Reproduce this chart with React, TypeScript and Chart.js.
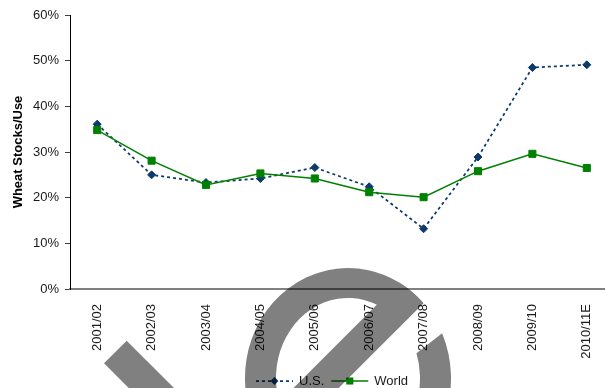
import { useEffect, useRef } from "react";
import { Chart, registerables } from "chart.js";
import type { Plugin, ChartDataset } from "chart.js";

Chart.register(...registerables);

// Marketing years on the category axis
const seasons = [
  "2001/02",
  "2002/03",
  "2003/04",
  "2004/05",
  "2005/06",
  "2006/07",
  "2007/08",
  "2008/09",
  "2009/10",
  "2010/11E",
];

// Ending stocks as a share of total use, in percent
const usStocksToUse = [36.1, 25.0, 23.3, 24.2, 26.6, 22.4, 13.2, 28.9, 48.5, 49.1];
const worldStocksToUse = [34.8, 28.1, 22.8, 25.3, 24.2, 21.2, 20.1, 25.8, 29.6, 26.5];

const seriesNames = ["U.S.", "World"];
const yAxisTitle = "Wheat Stocks/Use";
const yMin = 0;
const yMax = 60;
const yStep = 10;

const FONT = "Arial, 'Liberation Sans', sans-serif";
const US_COLOR = "#0d3a6b";
const WORLD_COLOR = "#008000";
const TEXT_COLOR = "#1a1a1a";

const CANVAS_W = 620;
const CANVAS_H = 388;

// Key drawn under the axis labels: a short stretch of each line with its marker
const KEY_CENTER_X = 332;
const KEY_Y = 381;
const KEY_SWATCH = 37;

function drawMarker(ctx: CanvasRenderingContext2D, style: string, x: number, y: number, r: number, color: string) {
  ctx.save();
  ctx.fillStyle = color;
  ctx.beginPath();
  if (style === "rectRot") {
    ctx.moveTo(x, y - r);
    ctx.lineTo(x + r, y);
    ctx.lineTo(x, y + r);
    ctx.lineTo(x - r, y);
    ctx.closePath();
  } else {
    const h = r * Math.SQRT1_2;
    ctx.rect(x - h, y - h, 2 * h, 2 * h);
  }
  ctx.fill();
  ctx.restore();
}

const seriesKey: Plugin<"line"> = {
  id: "seriesKey",
  afterDraw(chart) {
    const ctx = chart.ctx;
    ctx.save();
    ctx.font = `13px ${FONT}`;
    ctx.textBaseline = "middle";
    ctx.textAlign = "left";
    const gapText = 6;
    const gapItem = 7;
    const sets = chart.data.datasets as any[];
    const widths = sets.map((ds) => KEY_SWATCH + gapText + ctx.measureText(ds.label).width);
    const total = widths.reduce((a, b) => a + b, 0) + gapItem * (sets.length - 1);
    let x = KEY_CENTER_X - total / 2;
    sets.forEach((ds, i) => {
      ctx.save();
      ctx.strokeStyle = ds.borderColor;
      ctx.lineWidth = ds.borderWidth;
      ctx.setLineDash(ds.borderDash || []);
      ctx.beginPath();
      ctx.moveTo(x, KEY_Y);
      ctx.lineTo(x + KEY_SWATCH, KEY_Y);
      ctx.stroke();
      ctx.restore();
      drawMarker(ctx, ds.pointStyle, x + KEY_SWATCH / 2, KEY_Y, ds.pointRadius, ds.pointBackgroundColor);
      ctx.fillStyle = TEXT_COLOR;
      ctx.fillText(ds.label, x + KEY_SWATCH + gapText, KEY_Y);
      x += widths[i] + gapItem;
    });
    ctx.restore();
  },
};

// Grey publisher stamp laid over the lower part of the chart
const stamp: Plugin<"line"> = {
  id: "stamp",
  afterDraw(chart) {
    const layer = document.createElement("canvas");
    layer.width = chart.width;
    layer.height = chart.height;
    const g = layer.getContext("2d");
    if (!g) return;
    const rad = (d: number) => (d * Math.PI) / 180;
    g.fillStyle = "#808080";
    const cx = 348;
    const cy = 378;
    // open ring
    g.beginPath();
    g.ellipse(cx, cy, 103, 110, 0, rad(-24), rad(317), false);
    g.ellipse(cx, cy, 72, 80, 0, rad(318), rad(-18), true);
    g.closePath();
    g.fill();
    // diagonal cross stroke inside the ring
    g.save();
    g.beginPath();
    g.ellipse(cx, cy, 103, 110, 0, 0, Math.PI * 2);
    g.clip();
    g.beginPath();
    g.moveTo(481.5, 200);
    g.lineTo(526.7, 200);
    g.lineTo(226.7, 500);
    g.lineTo(181.5, 500);
    g.closePath();
    g.fill();
    g.restore();
    // slanted stroke on the left
    g.beginPath();
    g.moveTo(126.7, 340.7);
    g.lineTo(104, 363.3);
    g.lineTo(164, 423.3);
    g.lineTo(186.7, 400.7);
    g.closePath();
    g.fill();

    const ctx = chart.ctx;
    ctx.save();
    ctx.globalCompositeOperation = "multiply";
    ctx.drawImage(layer, 0, 0);
    ctx.restore();
  },
};

export default function App() {
  const canvasRef = useRef<HTMLCanvasElement>(null);

  useEffect(() => {
    const canvas = canvasRef.current;
    if (!canvas) return;

    const datasets: ChartDataset<"line">[] = [
      {
        label: seriesNames[0],
        data: usStocksToUse,
        borderColor: US_COLOR,
        backgroundColor: US_COLOR,
        borderWidth: 1.75,
        borderDash: [3, 3],
        pointStyle: "rectRot",
        pointRadius: 4,
        pointBackgroundColor: US_COLOR,
        pointBorderColor: US_COLOR,
        pointBorderWidth: 1,
        tension: 0,
        order: 2,
      },
      {
        label: seriesNames[1],
        data: worldStocksToUse,
        borderColor: WORLD_COLOR,
        backgroundColor: WORLD_COLOR,
        borderWidth: 1.5,
        pointStyle: "rect",
        pointRadius: 5,
        pointBackgroundColor: WORLD_COLOR,
        pointBorderColor: WORLD_COLOR,
        pointBorderWidth: 1,
        tension: 0,
        order: 1,
      },
    ];

    const chart = new Chart(canvas, {
      type: "line",
      data: { labels: seasons, datasets },
      options: {
        animation: false,
        responsive: false,
        devicePixelRatio: 1,
        layout: { padding: { top: 15, right: 4, left: 0, bottom: 0 } },
        plugins: {
          legend: { display: false },
          tooltip: { enabled: false },
        },
        scales: {
          x: {
            type: "category",
            offset: true,
            grid: { display: false },
            border: { display: true, color: "#808080", width: 2 },
            ticks: {
              autoSkip: false,
              minRotation: 90,
              maxRotation: 90,
              padding: 7,
              color: TEXT_COLOR,
              font: { family: FONT, size: 13 },
            },
            afterFit: (s: any) => {
              s.height = CANVAS_H - 289;
            },
          },
          y: {
            min: yMin,
            max: yMax,
            ticks: {
              stepSize: yStep,
              padding: 6,
              color: TEXT_COLOR,
              font: { family: FONT, size: 13 },
              callback: (v: any) => `${v}%`,
            },
            grid: {
              display: true,
              drawOnChartArea: false,
              drawTicks: true,
              tickLength: 5,
              color: "#404040",
            },
            border: { display: true, color: "#000000", width: 1 },
            title: {
              display: true,
              text: yAxisTitle,
              color: "#000000",
              font: { family: FONT, size: 13, weight: "bold" },
              padding: { top: 11, bottom: 0 },
            },
            afterFit: (s: any) => {
              s.width = 70;
            },
          },
        },
      },
      plugins: [seriesKey, stamp],
    });

    return () => chart.destroy();
  }, []);

  return (
    <div
      style={{
        position: "fixed",
        left: 0,
        top: 0,
        width: 605,
        height: CANVAS_H,
        overflow: "hidden",
        background: "#ffffff",
      }}
    >
      <canvas
        ref={canvasRef}
        width={CANVAS_W}
        height={CANVAS_H}
        style={{ display: "block", width: CANVAS_W, height: CANVAS_H }}
      />
    </div>
  );
}
